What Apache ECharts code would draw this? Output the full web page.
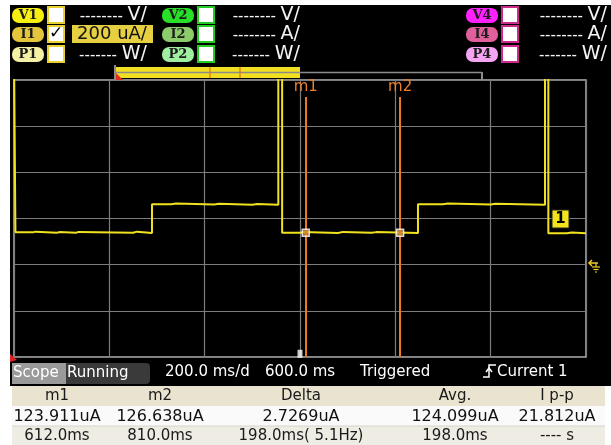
<!DOCTYPE html>
<html><head><meta charset="utf-8">
<script src="https://cdn.jsdelivr.net/npm/echarts@6/dist/echarts.min.js"></script>
<style>html,body{margin:0;padding:0;background:#fff;}#c{width:611px;height:445px;}</style>
</head><body><div id="c"></div>
<script>
// ---- data (time in ms, current in uA) ----
const timeMs    = [0, 3, 40, 45, 90, 95, 130, 135, 250, 258, 289.5, 330, 340, 420, 430, 500, 510, 554.5, 562.5, 600, 606, 680, 690, 750, 760, 847.5, 900, 910, 1000, 1010, 1114, 1121, 1160, 1170, 1200];
const currentUA = [900, 140, 143, 138, 141, 138, 142, 138, 143, 137, 262, 265, 261, 264, 260, 263, 260, 900, 138, 141, 137, 142, 138, 141, 137, 262, 265, 261, 264, 260, 900, 136, 139, 136, 137];
const markerNames = ['m1', 'm2'];
const markerTimes = [612, 810];
const markerValues = [138, 138];
const triggerTimeMs = [600];
const timeRange = [0, 1200];      // 200 ms/div
const currentRange = [-400, 800]; // 200 uA/div
const tableHeaders = ['m1', 'm2', 'Delta', 'Avg.', 'I p-p'];
const tableValues  = ['123.911uA', '126.638uA', '2.7269uA', '124.099uA', '21.812uA'];
const tableTimes   = ['612.0ms', '810.0ms', '198.0ms( 5.1Hz)', '198.0ms', '---- s'];
const statusTexts  = ['200.0 ms/d', '600.0 ms', 'Triggered', 'Current 1'];

const FONT = 'DejaVu Sans';
const chart = echarts.init(document.getElementById('c'), null, {renderer: 'canvas'});

const G = [];
function rect(x, y, w, h, fill, extra) {
  G.push(Object.assign({type: 'rect', shape: {x, y, width: w, height: h, r: (extra && extra.r) || 0},
    style: Object.assign({fill}, (extra && extra.style) || {}), z: (extra && extra.z) || 50, silent: true}));
}
function text(t, x, y, size, color, align, extra) {
  G.push({type: 'text', z: 60, silent: true, style: Object.assign({text: t, x, y, fill: color,
    font: (extra && extra.weight ? extra.weight + ' ' : '') + size + 'px ' + ((extra && extra.family) || FONT),
    textAlign: align || 'left', textVerticalAlign: 'middle'})});
}
function line(pts, color, w, z) {
  G.push({type: 'polyline', z: z || 55, silent: true, shape: {points: pts}, style: {stroke: color, lineWidth: w, fill: null}});
}

// black screen
G.push({type: 'rect', z: -100, silent: true, shape: {x: 10, y: 5, width: 601, height: 381}, style: {fill: '#000'}});
// table backgrounds
rect(12, 386, 593, 20, '#e9e3cf');
rect(12, 406, 593, 20, '#fafafa');
rect(12, 426, 593, 19, '#efece3');
line([[12, 426], [605, 426]], '#d8d4c8', 1);

// header channel rows
const rowsY = [15, 34, 54];
const chans = [
  {px: 12, bx: 48, border: '#e8d030', unitR: 147, pills: [['V1', '#f6ef10'], ['I1', '#e4c63c'], ['P1', '#f4f0a4']]},
  {px: 162, bx: 198, border: '#22cc22', unitR: 300, pills: [['V2', '#28e028'], ['I2', '#8ccc6a'], ['P2', '#a0eea0']]},
  {px: 466, bx: 502, border: '#cc2a8a', unitR: 607, pills: [['V4', '#ff22ff'], ['I4', '#e0609c'], ['P4', '#f4a4f0']]}
];
const units = ['V/', 'A/', 'W/'];
const unitGap = [24, 24, 30];
chans.forEach((c, ci) => {
  rowsY.forEach((ry, ri) => {
    rect(c.px, ry - 7, 32, 15, c.pills[ri][1], {r: 7});
    text(c.pills[ri][0], c.px + 16, ry + 0.5, 13, '#1c1c1c', 'center', {weight: 'bold', family: 'DejaVu Serif'});
    rect(c.bx, ry - 8, 16, 16, '#fff', {style: {stroke: c.border, lineWidth: 2}});
    if (ci === 0 && ri === 1) {
      rect(72, 25, 81, 18, '#e6cf40');
      text('200 uA/', 112, 34.5, 18, '#111', 'center');
      text('\u2713', 56, 34, 17, '#000', 'center', {weight: 'bold'});
    } else {
      text(units[ri], c.unitR, ry + 0.5, 19, '#f4f4f4', 'right');
      text(ri === 2 ? '-------' : '--------', c.unitR - unitGap[ri], ry + 2, 15, '#f4f4f4', 'right');
    }
  });
});

// timeline bar
rect(116, 67, 184, 11, '#f0e020');
line([[115, 72.5], [482, 72.5]], '#8c8c8c', 1.5);
line([[115, 65], [115, 80]], '#8c8c8c', 2);
line([[482, 72], [482, 80]], '#8c8c8c', 2);
line([[210, 67], [210, 78]], '#e07020', 1.2);
line([[240, 67], [240, 78]], '#e07020', 1.2);
G.push({type: 'polygon', z: 56, silent: true, shape: {points: [[116, 73], [123, 80], [116, 80]]}, style: {fill: '#e03020'}});
G.push({type: 'polygon', z: 56, silent: true, shape: {points: [[10, 354], [17, 360], [10, 362]]}, style: {fill: '#e02020'}});

// channel "1" marker and ground reference
rect(552, 210, 17, 18, '#f4e41c', {style: {stroke: '#222', lineWidth: 1}});
text('1', 560.5, 219.5, 15, '#000', 'center', {weight: 'bold'});
line([[598, 263], [589, 263]], '#f0d020', 1.5);
line([[592, 260], [589, 263], [592, 266]], '#f0d020', 1.5);
line([[596, 263], [596, 267]], '#f0d020', 1.2);
line([[592, 267], [600, 267]], '#f0d020', 1.2);
line([[593.5, 269.5], [598.5, 269.5]], '#f0d020', 1.2);
line([[595, 272], [597, 272]], '#f0d020', 1.2);

// status bar
rect(12, 363, 60, 21, '#9a9a9a');
rect(66, 363, 84, 21, '#3a3a3a', {r: [0, 4, 4, 0]});
text('Scope', 13, 373.5, 15, '#fff', 'left');
text('Running', 67, 373.5, 15, '#fff', 'left');
text(statusTexts[0], 165, 372, 15, '#fff', 'left');
text(statusTexts[1], 265, 372, 15, '#fff', 'left');
text(statusTexts[2], 360, 372, 15, '#fff', 'left');
line([[483, 377], [489, 377], [489, 365], [496, 365]], '#fff', 1.5);
line([[486, 372], [489, 368], [492, 372]], '#fff', 1.5);
text(statusTexts[3], 497, 372, 15, '#fff', 'left');

// table
const colX = [57, 160, 301, 455, 557];
tableHeaders.forEach((t, i) => text(t, colX[i], 396.5, 15, '#1a1a1a', 'center'));
tableValues.forEach((t, i) => text(t, colX[i], 416.5, 16, '#111', 'center'));
tableTimes.forEach((t, i) => text(t, colX[i], 436, 15, '#1a1a1a', 'center'));

const trace = timeMs.map((t, i) => [t, currentUA[i]]);
const markerLines = markerTimes.map((t, i) => [
  {coord: [t, currentRange[0]]}, {coord: [t, 726]}
]);

chart.setOption({
  animation: false,
  backgroundColor: 'transparent',
  grid: {left: 14, top: 80, width: 572, height: 277, show: true, borderColor: '#b4b4b4', borderWidth: 1.5, backgroundColor: 'transparent'},
  xAxis: {type: 'value', min: timeRange[0], max: timeRange[1], interval: 200,
    axisLine: {show: false}, axisTick: {show: false}, axisLabel: {show: false},
    splitLine: {show: true, lineStyle: {color: '#7c7c7c', width: 1.2}}},
  yAxis: {type: 'value', min: currentRange[0], max: currentRange[1], interval: 200,
    axisLine: {show: false}, axisTick: {show: false}, axisLabel: {show: false},
    splitLine: {show: true, lineStyle: {color: '#7c7c7c', width: 1.2}}},
  series: [
    {type: 'line', data: trace, step: 'end', showSymbol: false, clip: true, z: 3,
      lineStyle: {color: '#f0e21e', width: 2},
      markLine: {silent: true, symbol: ['none', 'none'], animation: false,
        lineStyle: {color: '#e87a26', width: 2, type: 'solid'},
        label: {show: true, position: 'end', distance: 2, color: '#e8802a', fontSize: 15, fontFamily: FONT,
          formatter: p => markerNames[p.dataIndex]},
        data: markerLines}},
    {type: 'scatter', z: 5, data: markerTimes.map((t, i) => [t, markerValues[i]]), symbol: 'rect', symbolSize: 7,
      itemStyle: {color: '#d08a30', borderColor: '#fff', borderWidth: 1.5}},
    {type: 'scatter', z: 5, data: triggerTimeMs.map(t => [t, currentRange[0] + 14]), symbol: 'rect', symbolSize: [5, 8],
      itemStyle: {color: '#fff'}}
  ],
  graphic: {elements: G}
});
</script></body></html>
